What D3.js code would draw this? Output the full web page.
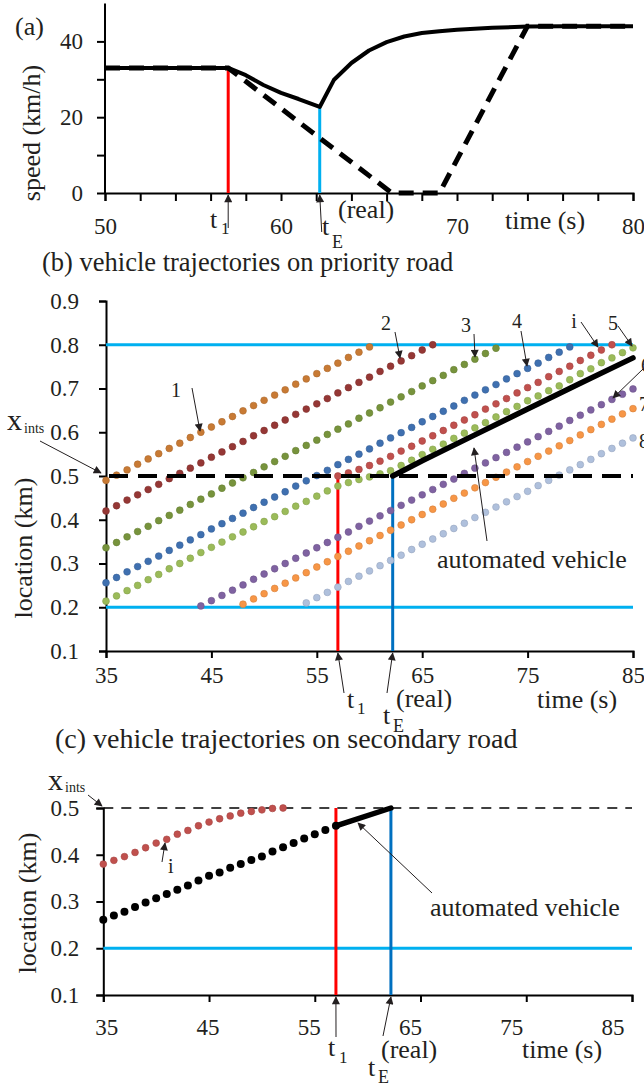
<!DOCTYPE html>
<html>
<head>
<meta charset="utf-8">
<script src="https://cdn.jsdelivr.net/npm/d3@7"></script>
<style>
  body { margin: 0; background: #fff; }
  text { font-family: "Liberation Serif", "Times New Roman", serif; fill: #231f20; }
</style>
</head>
<body>
<div id="chart"></div>
<script>
// ---------- data ----------

// (a) speed of the automated vehicle (solid) and reference case (dashed), km/h
const speedTimes = [50, 52, 54, 56, 57, 58, 59, 60, 61, 62.2, 63, 64, 65, 66, 67, 68, 69, 70, 72, 74, 76, 78, 80];
const speedAV = [33, 33, 33, 33, 33, 31.1, 28.5, 26.4, 24.8, 22.7, 29.8, 34.3, 37.6, 39.8, 41.3, 42.2, 42.7, 43.1, 43.6, 43.9, 44, 44, 44];
const speedRefTimes = [50, 57, 62.2, 66.3, 69, 74, 80];
const speedRef = [33, 33, 14.5, 0, 0, 44, 44];

// (b) trajectories on the priority road, one point per second from the start time
const priorityNames = ["1", "2", "3", "4", "i", "5", "6", "7", "8"];
const priorityStart = [35, 35, 35, 35, 57, 35, 44, 48, 54];
const loc1 = [0.490, 0.502, 0.514, 0.527, 0.539, 0.551, 0.563, 0.575, 0.588, 0.600, 0.612, 0.624, 0.636, 0.649, 0.661, 0.673, 0.685, 0.697, 0.710, 0.722, 0.734, 0.746, 0.758, 0.771, 0.783, 0.795];
const loc2 = [0.420, 0.432, 0.445, 0.457, 0.469, 0.481, 0.494, 0.506, 0.518, 0.530, 0.543, 0.555, 0.567, 0.579, 0.592, 0.604, 0.616, 0.628, 0.641, 0.653, 0.665, 0.677, 0.690, 0.702, 0.714, 0.726, 0.739, 0.751, 0.763, 0.775, 0.788, 0.800];
const loc3 = [0.336, 0.348, 0.361, 0.373, 0.385, 0.398, 0.410, 0.422, 0.435, 0.447, 0.459, 0.472, 0.484, 0.496, 0.508, 0.521, 0.533, 0.545, 0.558, 0.570, 0.582, 0.595, 0.607, 0.619, 0.632, 0.644, 0.656, 0.669, 0.681, 0.693, 0.706, 0.718, 0.730, 0.743, 0.755, 0.767, 0.780, 0.792];
const loc4 = [0.256, 0.268, 0.281, 0.293, 0.305, 0.317, 0.330, 0.342, 0.354, 0.366, 0.379, 0.391, 0.403, 0.415, 0.428, 0.440, 0.452, 0.464, 0.477, 0.489, 0.501, 0.513, 0.526, 0.538, 0.550, 0.562, 0.575, 0.587, 0.599, 0.611, 0.624, 0.636, 0.648, 0.660, 0.673, 0.685, 0.697, 0.709, 0.722, 0.734, 0.746, 0.758, 0.771, 0.783, 0.795];
const locI = [0.500, 0.507, 0.515, 0.524, 0.534, 0.545, 0.557, 0.568, 0.580, 0.592, 0.604, 0.616, 0.628, 0.640, 0.653, 0.665, 0.677, 0.690, 0.702, 0.714, 0.727, 0.739, 0.751, 0.764, 0.776, 0.788, 0.800];
const loc5 = [0.214, 0.226, 0.238, 0.250, 0.263, 0.275, 0.288, 0.300, 0.312, 0.325, 0.337, 0.349, 0.361, 0.372, 0.384, 0.396, 0.407, 0.419, 0.431, 0.442, 0.454, 0.466, 0.477, 0.485, 0.492, 0.498, 0.505, 0.512, 0.524, 0.536, 0.549, 0.561, 0.573, 0.586, 0.598, 0.610, 0.622, 0.635, 0.647, 0.659, 0.672, 0.683, 0.695, 0.706, 0.720, 0.734, 0.745, 0.759, 0.770, 0.782, 0.793];
const loc6 = [0.203, 0.215, 0.227, 0.239, 0.251, 0.264, 0.276, 0.288, 0.300, 0.312, 0.324, 0.336, 0.348, 0.360, 0.372, 0.385, 0.397, 0.409, 0.421, 0.433, 0.445, 0.457, 0.469, 0.481, 0.493, 0.506, 0.518, 0.530, 0.542, 0.554, 0.566, 0.578, 0.590, 0.602, 0.614, 0.627, 0.639, 0.651, 0.663, 0.675, 0.687, 0.699];
const loc7 = [0.207, 0.219, 0.231, 0.243, 0.255, 0.267, 0.279, 0.292, 0.304, 0.316, 0.328, 0.340, 0.352, 0.364, 0.376, 0.388, 0.400, 0.412, 0.424, 0.436, 0.449, 0.461, 0.473, 0.485, 0.497, 0.509, 0.521, 0.533, 0.545, 0.557, 0.569, 0.581, 0.594, 0.606, 0.618, 0.630, 0.642, 0.654];
const loc8 = [0.210, 0.222, 0.234, 0.246, 0.259, 0.271, 0.283, 0.295, 0.307, 0.319, 0.332, 0.344, 0.356, 0.368, 0.380, 0.392, 0.405, 0.417, 0.429, 0.441, 0.453, 0.465, 0.478, 0.490, 0.502, 0.514, 0.526, 0.538, 0.551, 0.563, 0.575, 0.587];

// automated vehicle after entering the priority road
const avPriorityTimes = [62.2, 65, 70, 75, 80, 85];
const avPriorityLoc = [0.500, 0.535, 0.594, 0.653, 0.712, 0.770];

// (c) secondary road: vehicle i and the automated vehicle (one point per second from 35 s)
const secIStart = 35;
const secILoc = [0.380, 0.388, 0.396, 0.405, 0.415, 0.425, 0.433, 0.444, 0.452, 0.462, 0.470, 0.477, 0.483, 0.489, 0.4925, 0.496, 0.499, 0.500];
const secAVStart = 35;
const secAVLoc = [0.261, 0.270, 0.278, 0.288, 0.298, 0.307, 0.316, 0.325, 0.334, 0.345, 0.355, 0.362, 0.372, 0.380, 0.389, 0.396, 0.407, 0.416, 0.425, 0.435, 0.444, 0.453, 0.462];
const secAVLineTimes = [57, 62.2];
const secAVLineLoc = [0.462, 0.500];

// event times and reference levels
const t1 = 57;
const tE = 62.2;
const xInts = 0.5;
const roadStart = 0.2;
const roadEnd = 0.8;

// tick values / labels
const speedTickValues = [0, 10, 20, 30, 40];
const speedTickLabels = [0, 20, 40];
const timeTickValuesA = d3.range(50, 81, 2);
const timeTickLabelsA = [50, 60, 70, 80];
const locTicksB = [0.1, 0.2, 0.3, 0.4, 0.5, 0.6, 0.7, 0.8, 0.9];
const locTicksC = [0.1, 0.2, 0.3, 0.4, 0.5];
const timeTicksBC = [35, 45, 55, 65, 75, 85];

// ---------- styles ----------
const priorityColors = ["#c87a34", "#953735", "#77933c", "#3f70b0", "#c0504d", "#9bbb59", "#7f62a1", "#f79646", "#afc0dc"];
const lightBlue = "#00b0f0";
const darkBlue = "#0070c0";
const red = "#ff0000";

const width = 644, height = 1088;

const svg = d3.select("#chart").append("svg")
  .attr("width", width)
  .attr("height", height)
  .style("display", "block");

svg.append("rect").attr("width", width).attr("height", height).attr("fill", "#fff");

// arrowhead marker
svg.append("defs").append("marker")
  .attr("id", "head")
  .attr("viewBox", "0 0 10 10")
  .attr("refX", 9).attr("refY", 5)
  .attr("markerWidth", 9).attr("markerHeight", 8)
  .attr("markerUnits", "userSpaceOnUse")
  .attr("orient", "auto")
  .append("path").attr("d", "M0,0 L10,5 L0,10 Z").attr("fill", "#231f20");

function arrow(x1, y1, x2, y2) {
  svg.append("line")
    .attr("x1", x1).attr("y1", y1).attr("x2", x2).attr("y2", y2)
    .attr("stroke", "#231f20").attr("stroke-width", 1)
    .attr("marker-end", "url(#head)");
}

function label(x, y, str, size, anchor) {
  return svg.append("text")
    .attr("x", x).attr("y", y)
    .attr("font-size", size)
    .attr("text-anchor", anchor || "start")
    .text(str);
}

// "t" with a subscript (and optional superscript) kept in one text element
function tLabel(x, y, sub, sx, sy, sup, px, py) {
  const t = svg.append("text").attr("font-size", 26);
  t.append("tspan").attr("x", x).attr("y", y).text("t");
  t.append("tspan").attr("x", sx).attr("y", sy).attr("font-size", sub === "1" ? 17 : 18).text(sub);
  if (sup) t.append("tspan").attr("x", px).attr("y", py).text(sup);
  return t;
}

function styleAxis(g, fontSize) {
  g.select(".domain").attr("stroke", "#000").attr("stroke-width", 2);
  g.selectAll(".tick line").attr("stroke", "#000").attr("stroke-width", 2);
  g.selectAll(".tick text")
    .attr("font-size", fontSize)
    .attr("font-family", "Liberation Serif, Times New Roman, serif")
    .attr("fill", "#231f20");
}

// ---------- (a) speed ----------
const xA = d3.scaleLinear().domain([50, 80]).range([105, 633]);
const yA = d3.scaleLinear().domain([0, 50]).range([193, 3.5]);

svg.append("g")
  .attr("transform", `translate(0,${yA(0)})`)
  .call(d3.axisBottom(xA).tickValues(timeTickValuesA).tickSize(8).tickPadding(17)
    .tickFormat(d => timeTickLabelsA.includes(d) ? d : ""))
  .call(g => styleAxis(g, 23));

svg.append("g")
  .attr("transform", `translate(${xA(50)},0)`)
  .call(d3.axisLeft(yA).tickValues(speedTickValues).tickSize(8).tickPadding(14)
    .tickFormat(d => speedTickLabels.includes(d) ? d : ""))
  .call(g => { styleAxis(g, 23); g.select(".domain").attr("d", `M0,${yA(50)}V${yA(0)}`); });

// event lines
svg.append("line")
  .attr("x1", xA(t1)).attr("x2", xA(t1))
  .attr("y1", yA(0)).attr("y2", yA(speedAV[speedTimes.indexOf(t1)]))
  .attr("stroke", red).attr("stroke-width", 3);
svg.append("line")
  .attr("x1", xA(tE)).attr("x2", xA(tE))
  .attr("y1", yA(0)).attr("y2", yA(speedAV[speedTimes.indexOf(tE)]))
  .attr("stroke", lightBlue).attr("stroke-width", 3);

const lineA = d3.line().x(d => xA(d[0])).y(d => yA(d[1]));

svg.append("path")
  .attr("d", lineA(d3.zip(speedRefTimes, speedRef)))
  .attr("fill", "none").attr("stroke", "#000")
  .attr("stroke-width", 5).attr("stroke-dasharray", "15,9");

svg.append("path")
  .attr("d", lineA(d3.zip(speedTimes, speedAV)))
  .attr("fill", "none").attr("stroke", "#000")
  .attr("stroke-width", 4).attr("stroke-linejoin", "round");

label(15, 35, "(a)", 26);
svg.append("text")
  .attr("transform", `translate(40,${133}) rotate(-90)`)
  .attr("text-anchor", "middle").attr("font-size", 26)
  .text("speed (km/h)");
label(505, 229, "time (s)", 26);

// t1 / tE labels (a)
tLabel(210, 228, "1", 221, 234);
arrow(xA(t1), 228, xA(t1), yA(0) + 2);
tLabel(322, 235, "E", 332, 248, "(real)", 338, 218);
arrow(xA(tE) + 2, 232, xA(tE), yA(0) + 2);

// ---------- (b) priority road ----------
const xB = d3.scaleLinear().domain([35, 85]).range([106, 633]);
const yB = d3.scaleLinear().domain([0.1, 0.9]).range([651, 301]);

label(42, 271, "(b) vehicle trajectories on priority road", 26.5);

svg.append("g")
  .attr("transform", `translate(0,${yB(0.1)})`)
  .call(d3.axisBottom(xB).tickValues(timeTicksBC).tickSize(7).tickPadding(9))
  .call(g => styleAxis(g, 23));

svg.append("g")
  .attr("transform", `translate(${xB(35)},0)`)
  .call(d3.axisLeft(yB).tickValues(locTicksB).tickSize(7).tickPadding(20).tickFormat(d3.format(".1f")))
  .call(g => styleAxis(g, 23));

// road boundaries
[roadStart, roadEnd].forEach(v => {
  svg.append("line")
    .attr("x1", xB(35)).attr("x2", xB(85))
    .attr("y1", yB(v)).attr("y2", yB(v))
    .attr("stroke", lightBlue).attr("stroke-width", 3);
});

// vertical event lines
svg.append("line")
  .attr("x1", xB(t1)).attr("x2", xB(t1)).attr("y1", yB(0.1)).attr("y2", yB(xInts))
  .attr("stroke", red).attr("stroke-width", 3);
svg.append("line")
  .attr("x1", xB(tE)).attr("x2", xB(tE)).attr("y1", yB(0.1)).attr("y2", yB(xInts))
  .attr("stroke", darkBlue).attr("stroke-width", 3);

// trajectories
const priorityLocs = [loc1, loc2, loc3, loc4, locI, loc5, loc6, loc7, loc8];
const trajectories = priorityLocs.map((vals, k) => ({
  name: priorityNames[k],
  color: priorityColors[k],
  points: vals.map((v, j) => [priorityStart[k] + j, v])
}));

const gTraj = svg.append("g");
trajectories.forEach(tr => {
  gTraj.selectAll(null)
    .data(tr.points)
    .join("circle")
    .attr("cx", d => xB(d[0]))
    .attr("cy", d => yB(d[1]))
    .attr("r", 3.4)
    .attr("fill", tr.color)
    .attr("stroke", d3.color(tr.color).darker(0.4))
    .attr("stroke-width", 0.6);
});

// intersection line
svg.append("line")
  .attr("x1", xB(35)).attr("x2", xB(85)).attr("y1", yB(xInts)).attr("y2", yB(xInts))
  .attr("stroke", "#000").attr("stroke-width", 4).attr("stroke-dasharray", "19,10")
  .attr("stroke-dashoffset", -3);

// automated vehicle on priority road
const lineB = d3.line().x(d => xB(d[0])).y(d => yB(d[1]));
svg.append("path")
  .attr("d", lineB(d3.zip(avPriorityTimes, avPriorityLoc)))
  .attr("fill", "none").attr("stroke", "#000").attr("stroke-width", 5.5)
  .attr("stroke-linecap", "round");

// labels (b)
label(176, 397, "1", 20, "middle");
arrow(192, 388, 200, 431);
label(386, 330, "2", 20, "middle");
arrow(395, 332, 400, 358);
label(466, 332, "3", 20, "middle");
arrow(474, 334, 475, 357);
label(517, 328, "4", 20, "middle");
arrow(521, 331, 527, 366);
label(574, 328, "i", 20, "middle");
arrow(581, 322, 598, 347);
label(613, 330, "5", 20, "middle");
arrow(618, 326, 632, 346);
label(641, 372, "6", 20);
arrow(643, 369, 613, 398);
label(639, 411, "7", 20);
label(639, 448, "8", 20);

svg.append("text").attr("font-size", 30)
  .call(t => t.append("tspan").attr("x", 7).attr("y", 430).text("x"))
  .call(t => t.append("tspan").attr("x", 24).attr("y", 433).attr("font-size", 14).text("ints"));
arrow(40, 441, 101, 473);

label(437, 568, "automated vehicle", 26);
arrow(487, 541, 474, 448);

svg.append("text")
  .attr("transform", `translate(32,548) rotate(-90)`)
  .attr("text-anchor", "middle").attr("font-size", 26)
  .text("location (km)");

label(537, 708, "time (s)", 26);
tLabel(347, 708, "1", 357, 714);
arrow(344, 693, xB(t1), yB(0.1) + 2);
tLabel(383, 724, "E", 393, 732, "(real)", 396, 707);
arrow(387, 693, xB(tE), yB(0.1) + 2);

// ---------- (c) secondary road ----------
const xC = d3.scaleLinear().domain([35, 85]).range([103.3, 632]);
const yC = d3.scaleLinear().domain([0.1, 0.5]).range([995, 808]);
const xCLabel = d3.scaleLinear().domain([35, 85]).range([106.7, 613]);

label(55, 748, "(c) vehicle trajectories on secondary road", 28);

svg.append("g")
  .attr("transform", `translate(0,${yC(0.1)})`)
  .call(d3.axisBottom(xC).tickValues(timeTicksBC).tickSize(7).tickFormat(""))
  .call(g => styleAxis(g, 23));
svg.append("g").selectAll("text")
  .data(timeTicksBC)
  .join("text")
  .attr("x", d => xCLabel(d))
  .attr("y", yC(0.1) + 40)
  .attr("text-anchor", "middle")
  .attr("font-size", 23)
  .text(d => d);

svg.append("g")
  .attr("transform", `translate(${xC(35)},0)`)
  .call(d3.axisLeft(yC).tickValues(locTicksC).tickSize(7).tickPadding(17).tickFormat(d3.format(".1f")))
  .call(g => styleAxis(g, 23));

svg.append("line")
  .attr("x1", xC(35)).attr("x2", xC(85)).attr("y1", yC(roadStart)).attr("y2", yC(roadStart))
  .attr("stroke", lightBlue).attr("stroke-width", 3);

svg.append("line")
  .attr("x1", xC(35)).attr("x2", xC(85)).attr("y1", yC(xInts)).attr("y2", yC(xInts))
  .attr("stroke", "#000").attr("stroke-width", 1.3).attr("stroke-dasharray", "10,8");

svg.append("line")
  .attr("x1", xC(t1)).attr("x2", xC(t1)).attr("y1", yC(0.1)).attr("y2", yC(xInts))
  .attr("stroke", red).attr("stroke-width", 3);
svg.append("line")
  .attr("x1", xC(tE)).attr("x2", xC(tE)).attr("y1", yC(0.1)).attr("y2", yC(xInts))
  .attr("stroke", darkBlue).attr("stroke-width", 3);

svg.append("g").selectAll("circle")
  .data(secILoc.map((v, j) => [secIStart + j, v]))
  .join("circle")
  .attr("cx", d => xC(d[0])).attr("cy", d => yC(d[1]))
  .attr("r", 3.4).attr("fill", priorityColors[4])
  .attr("stroke", d3.color(priorityColors[4]).darker(0.4)).attr("stroke-width", 0.6);

svg.append("g").selectAll("circle")
  .data(secAVLoc.map((v, j) => [secAVStart + j, v]))
  .join("circle")
  .attr("cx", d => xC(d[0])).attr("cy", d => yC(d[1]))
  .attr("r", 4).attr("fill", "#000");

const lineC = d3.line().x(d => xC(d[0])).y(d => yC(d[1]));
svg.append("path")
  .attr("d", lineC(d3.zip(secAVLineTimes, secAVLineLoc)))
  .attr("fill", "none").attr("stroke", "#000").attr("stroke-width", 5.5)
  .attr("stroke-linecap", "round");

svg.append("text").attr("font-size", 30)
  .call(t => t.append("tspan").attr("x", 48).attr("y", 790).text("x"))
  .call(t => t.append("tspan").attr("x", 65).attr("y", 792).attr("font-size", 14).text("ints"));
arrow(88, 795, 102, 806);

label(168, 873, "i", 20);
arrow(162, 862, 165, 843);

label(430, 916, "automated vehicle", 26);
arrow(432, 893, 358, 823);

svg.append("text")
  .attr("transform", `translate(36,903) rotate(-90)`)
  .attr("text-anchor", "middle").attr("font-size", 26)
  .text("location (km)");

label(522, 1058, "time (s)", 26);
tLabel(328, 1056, "1", 339, 1063);
arrow(336, 1037, xC(t1), yC(0.1) + 2);
tLabel(368, 1076, "E", 378, 1083, "(real)", 381, 1058);
arrow(383, 1036, xC(tE), yC(0.1) + 2);
</script>
</body>
</html>
